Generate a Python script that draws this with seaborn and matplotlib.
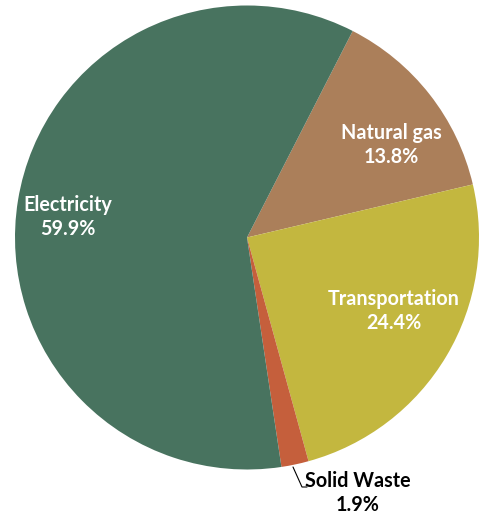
import numpy as np
import matplotlib
matplotlib.use("Agg")
import matplotlib.pyplot as plt
import seaborn as sns

# Emission shares by source (percent)
sources = ["Natural gas", "Transportation", "Solid Waste", "Electricity"]
shares = [13.8, 24.4, 1.9, 59.9]
colors = ["#AB7F5A", "#C3B73F", "#C55F3C", "#48735F"]

sns.set_theme(style="white")
plt.rcParams["font.family"] = ["Lato", "DejaVu Sans"]

W, H = 479, 514
fig = plt.figure(figsize=(W / 100, H / 100), dpi=100)
ax = fig.add_axes([0, 0, 1, 1])

# pie centre / radius in pixel units, converted to data units (radius = 1)
cx, cy, R = 247, 237.5, 232
wedges, _ = ax.pie(shares, colors=colors, startangle=62.9, counterclock=False,
                   radius=1, wedgeprops=dict(linewidth=0))
ax.set_xlim(-cx / R, (W - cx) / R)
ax.set_ylim(-(H - cy) / R, cy / R)
ax.set_aspect("auto")
ax.axis("off")

def px(x, y):
    return (x - cx) / R, (cy - y) / R

FS = 14.2
LS = 1.25
label_px = {"Electricity": (68, 217), "Natural gas": (391, 145),
            "Transportation": (394, 311)}
for name, val in zip(sources, shares):
    if name in label_px:
        x, y = px(*label_px[name])
        ax.text(x, y, f"{name}\n{val}%", ha="center", va="center",
                color="white", fontsize=FS, fontweight="bold", linespacing=LS)

# small slice labelled outside with a leader line
i = sources.index("Solid Waste")
lx, ly = px(358, 493)
ax.text(lx, ly, f"{sources[i]}\n{shares[i]}%", ha="center", va="center",
        color="black", fontsize=FS, fontweight="bold", linespacing=LS)
p0, p1, p2 = px(293, 467), px(302, 487), px(307, 487)
ax.plot([p0[0], p1[0], p2[0]], [p0[1], p1[1], p2[1]], color="black", lw=0.8)

fig.savefig("out.png", dpi=100, facecolor="white")
